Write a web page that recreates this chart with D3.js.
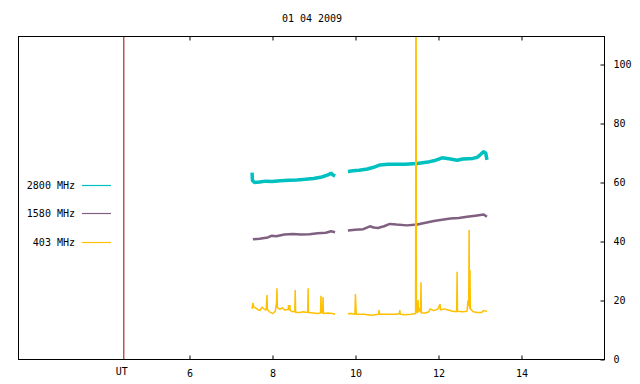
<!DOCTYPE html>
<html>
<head>
<meta charset="utf-8">
<script src="https://cdn.jsdelivr.net/npm/d3@7"></script>
<style>
  body { margin: 0; background: #fff; }
  svg { display: block; font-family: "DejaVu Sans Mono", monospace; font-size: 10px; }
</style>
</head>
<body>
<div id="chart"></div>
<script>
const title = "01 04 2009";
const xTicks = [6, 8, 10, 12, 14];
const yTicks = [0, 20, 40, 60, 80, 100];
const utHour = 4.43;
const seriesNames = ["2800 MHz", "1580 MHz", "403 MHz"];
const seriesColors = ["#00c0c0", "#806080", "#ffc000"];

// [hour, flux], null = data gap
const f2800 = [
  [7.52, 63.2], [7.53, 60.5], [7.58, 59.8], [7.7, 60.0], [7.85, 60.3], [8.0, 60.2],
  [8.2, 60.4], [8.4, 60.6], [8.6, 60.7], [8.8, 60.9], [9.0, 61.2], [9.2, 61.7],
  [9.35, 62.4], [9.42, 63.0], [9.47, 62.4], [9.52, 62.0],
  null,
  [9.83, 63.6], [9.95, 63.8], [10.1, 64.0], [10.3, 64.4], [10.45, 65.0], [10.6, 65.8],
  [10.8, 66.0], [11.0, 66.0], [11.2, 66.0], [11.5, 66.3], [11.8, 66.9], [11.95, 67.4],
  [12.1, 68.2], [12.3, 67.8], [12.46, 67.4], [12.6, 67.8], [12.84, 68.0], [12.95, 68.4],
  [13.03, 69.4], [13.1, 70.3], [13.15, 69.8], [13.18, 67.5]
];
const f1580 = [
  [7.54, 40.6], [7.7, 40.8], [7.9, 41.2], [8.0, 41.8], [8.1, 41.6], [8.3, 42.2],
  [8.5, 42.4], [8.7, 42.2], [8.9, 42.3], [9.1, 42.6], [9.3, 42.8], [9.42, 43.3], [9.52, 43.0],
  null,
  [9.83, 43.6], [10.0, 43.8], [10.2, 44.0], [10.3, 44.6], [10.36, 45.0], [10.45, 44.6],
  [10.55, 44.4], [10.7, 45.0], [10.84, 45.8], [11.0, 45.6], [11.25, 45.3], [11.5, 45.6],
  [11.7, 46.2], [11.9, 46.8], [12.1, 47.2], [12.3, 47.6], [12.5, 47.8], [12.7, 48.2],
  [12.9, 48.6], [13.1, 49.0], [13.18, 48.2]
];
const f403 = [
  [7.52, 17.0], [7.54, 19.0], [7.56, 17.6], [7.62, 17.2], [7.68, 16.6], [7.71, 16.4],
  [7.76, 17.6], [7.8, 17.0], [7.86, 16.6], [7.88, 21.7], [7.89, 16.8], [7.94, 16.0],
  [8.02, 15.4], [8.08, 16.2], [8.11, 19.3], [8.12, 24.0], [8.13, 17.4], [8.19, 16.8],
  [8.25, 17.4], [8.3, 16.6], [8.39, 16.8], [8.4, 18.3], [8.41, 16.6], [8.43, 18.3],
  [8.44, 16.4], [8.5, 16.0], [8.55, 16.2], [8.56, 23.4], [8.57, 15.8], [8.67, 15.8],
  [8.75, 16.0], [8.86, 15.8], [8.87, 24.0], [8.88, 15.8], [9.0, 15.6], [9.1, 15.4],
  [9.17, 15.6], [9.18, 21.4], [9.19, 15.8], [9.22, 15.6], [9.23, 21.0], [9.24, 15.4],
  [9.35, 15.6], [9.45, 15.4], [9.52, 15.2],
  null,
  [9.83, 15.3], [9.9, 15.4], [10.0, 15.2], [10.01, 22.0], [10.03, 15.2], [10.2, 15.2],
  [10.4, 14.8], [10.57, 15.2], [10.58, 16.6], [10.59, 15.2], [10.8, 15.2], [11.0, 15.2],
  [11.07, 15.4], [11.08, 16.6], [11.09, 15.2], [11.2, 15.0], [11.35, 15.2], [11.46, 15.4],
  [11.47, 150], [11.48, 16.0], [11.51, 15.6], [11.52, 20.0], [11.53, 16.0], [11.56, 17.3],
  [11.58, 15.8], [11.59, 26.0], [11.6, 15.6], [11.7, 15.6], [11.78, 16.0], [11.81, 17.0],
  [11.9, 16.4], [12.0, 17.0], [12.05, 18.6], [12.06, 16.6], [12.15, 17.0], [12.25, 16.6],
  [12.35, 16.2], [12.45, 16.0], [12.46, 29.6], [12.47, 16.2], [12.6, 16.0], [12.7, 16.2],
  [12.72, 19.8], [12.74, 18.0], [12.75, 43.7], [12.76, 17.0], [12.77, 30.2], [12.78, 17.0],
  [12.85, 16.0], [12.95, 15.8], [13.05, 15.8], [13.1, 16.4], [13.18, 16.2]
];
const seriesData = [f2800, f1580, f403];
const seriesWidths = [3.5, 2.5, 1.5];

const width = 640, height = 384;
const frame = { left: 18, right: 604, top: 36, bottom: 359 };

const x = d3.scaleLinear().domain([1.88, 16]).range([frame.left, frame.right]);
const y = d3.scaleLinear().domain([0, 109.5]).range([frame.bottom, frame.top]);

const svg = d3.select("#chart").append("svg")
  .attr("width", width)
  .attr("height", height);

svg.append("defs").append("clipPath").attr("id", "plot")
  .append("rect")
  .attr("x", frame.left).attr("y", frame.top)
  .attr("width", frame.right - frame.left).attr("height", frame.bottom - frame.top);

svg.append("text")
  .attr("x", 312).attr("y", 22)
  .attr("text-anchor", "middle")
  .text(title);

// UT marker line
svg.append("line")
  .attr("x1", x(utHour)).attr("x2", x(utHour))
  .attr("y1", frame.top).attr("y2", frame.bottom)
  .attr("stroke", "#a00000")
  .attr("stroke-width", 1);

svg.append("text")
  .attr("x", x(utHour) - 2).attr("y", 374.5)
  .attr("text-anchor", "middle")
  .text("UT");

const line = d3.line()
  .defined(d => d)
  .x(d => x(d[0]))
  .y(d => y(d[1]));

svg.append("g")
  .attr("clip-path", "url(#plot)")
  .selectAll("path")
  .data(seriesData)
  .join("path")
  .attr("fill", "none")
  .attr("stroke", (d, i) => seriesColors[i])
  .attr("stroke-width", (d, i) => seriesWidths[i])
  .attr("stroke-linejoin", "bevel")
  .attr("stroke-linecap", "butt")
  .attr("d", line);

// frame
svg.append("rect")
  .attr("x", frame.left + 0.5).attr("y", frame.top + 0.5)
  .attr("width", frame.right - frame.left).attr("height", frame.bottom - frame.top)
  .attr("fill", "none")
  .attr("stroke", "#000");

// x axis: ticks inward on bottom and top
const xAxis = svg.append("g").attr("transform", `translate(0.5,${frame.bottom + 0.5})`)
  .call(d3.axisBottom(x).tickValues(xTicks).tickSize(-4).tickPadding(10).tickFormat(d3.format("d")));
xAxis.select(".domain").remove();
xAxis.selectAll("text").attr("font-family", "DejaVu Sans Mono").attr("font-size", 10).attr("fill", "#000");

const xTop = svg.append("g").attr("transform", `translate(0.5,${frame.top + 0.5})`)
  .call(d3.axisTop(x).tickValues(xTicks).tickSize(-4).tickFormat(""));
xTop.select(".domain").remove();

// y axis on the right
const yAxis = svg.append("g").attr("transform", `translate(${frame.right + 0.5},0.5)`)
  .call(d3.axisRight(y).tickValues(yTicks).tickSize(-4).tickPadding(9));
yAxis.select(".domain").remove();
yAxis.selectAll("text").attr("font-family", "DejaVu Sans Mono").attr("font-size", 10).attr("fill", "#000");

// legend
const legendY = [185, 213, 242];
const legend = svg.append("g").selectAll("g")
  .data(seriesNames)
  .join("g")
  .attr("transform", (d, i) => `translate(0,${legendY[i]})`);

legend.append("text")
  .attr("x", 75).attr("dy", "0.35em")
  .attr("text-anchor", "end")
  .text(d => d);

legend.append("line")
  .attr("x1", 82).attr("x2", 111)
  .attr("y1", 0.5).attr("y2", 0.5)
  .attr("stroke", (d, i) => seriesColors[i])
  .attr("stroke-width", 1.2);
</script>
</body>
</html>
